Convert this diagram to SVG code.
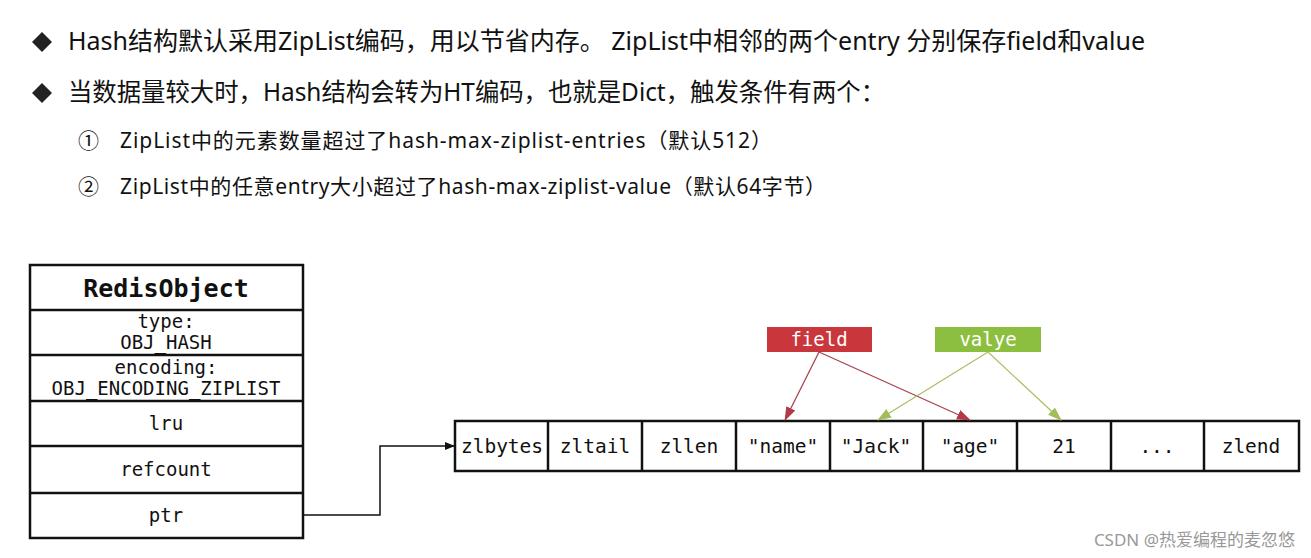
<svg xmlns="http://www.w3.org/2000/svg" width="1311" height="558" viewBox="0 0 1311 558">
<style>
.t{font-family:"Noto Sans","Noto Sans CJK SC",sans-serif;fill:#111}
.m{font-family:"DejaVu Sans Mono","Liberation Mono",monospace;fill:#111;text-anchor:middle}
.box{fill:#fff;stroke:#111;stroke-width:2.5}
.lbl{font-family:"DejaVu Sans Mono","Liberation Mono",monospace;fill:#fff;text-anchor:middle;font-size:19px}
</style>
<defs>
<marker id="ab" markerWidth="10" markerHeight="10" refX="9" refY="5" orient="auto" markerUnits="userSpaceOnUse"><path d="M0,1 L10,5 L0,9 Z" fill="#111"/></marker>
<marker id="ar" markerWidth="14" markerHeight="12" refX="13" refY="6" orient="auto" markerUnits="userSpaceOnUse"><path d="M0,1 L14,6 L0,11 Z" fill="#b03a48"/></marker>
<marker id="ag" markerWidth="14" markerHeight="12" refX="13" refY="6" orient="auto" markerUnits="userSpaceOnUse"><path d="M0,1 L14,6 L0,11 Z" fill="#a3bd5a"/></marker>
</defs>
<rect width="1311" height="558" fill="#fff"/>
<g id="text">
<path d="M42,32 L52,42 L42,52 L32,42 Z" fill="#222"/>
<text class="t" x="68" y="50" font-size="24.5" textLength="1077" lengthAdjust="spacingAndGlyphs">Hash结构默认采用ZipList编码，用以节省内存。 ZipList中相邻的两个entry 分别保存field和value</text>
<path d="M42,83 L52,93 L42,103 L32,93 Z" fill="#222"/>
<text class="t" x="68" y="101" font-size="24.5" textLength="817" lengthAdjust="spacingAndGlyphs">当数据量较大时，Hash结构会转为HT编码，也就是Dict，触发条件有两个：</text>
<text class="t" x="78" y="148" font-size="21">①</text>
<text class="t" x="120" y="148" font-size="21" textLength="652" lengthAdjust="spacing">ZipList中的元素数量超过了hash-max-ziplist-entries（默认512）</text>
<text class="t" x="78" y="194" font-size="21">②</text>
<text class="t" x="120" y="194" font-size="21" textLength="706" lengthAdjust="spacing">ZipList中的任意entry大小超过了hash-max-ziplist-value（默认64字节）</text>
</g>
<g id="redisobject">
<rect class="box" x="30" y="265" width="273" height="273"/>
<line x1="30" y1="310" x2="303" y2="310" stroke="#111" stroke-width="2.5"/>
<line x1="30" y1="355" x2="303" y2="355" stroke="#111" stroke-width="2.5"/>
<line x1="30" y1="401" x2="303" y2="401" stroke="#111" stroke-width="2.5"/>
<line x1="30" y1="446" x2="303" y2="446" stroke="#111" stroke-width="2.5"/>
<line x1="30" y1="493" x2="303" y2="493" stroke="#111" stroke-width="2.5"/>
<text class="m" x="166" y="297" font-size="25" font-weight="bold">RedisObject</text>
<text class="m" x="166" y="328" font-size="19">type:</text>
<text class="m" x="166" y="349" font-size="19">OBJ_HASH</text>
<text class="m" x="166" y="374" font-size="19">encoding:</text>
<text class="m" x="166" y="395" font-size="19">OBJ_ENCODING_ZIPLIST</text>
<text class="m" x="166" y="430" font-size="19">lru</text>
<text class="m" x="166" y="476" font-size="19">refcount</text>
<text class="m" x="166" y="522" font-size="19">ptr</text>
</g>
<g id="ziplist">
<rect class="box" x="455" y="421" width="844" height="50"/>
<line x1="548" y1="421" x2="548" y2="471" stroke="#111" stroke-width="2.5"/>
<line x1="642" y1="421" x2="642" y2="471" stroke="#111" stroke-width="2.5"/>
<line x1="736" y1="421" x2="736" y2="471" stroke="#111" stroke-width="2.5"/>
<line x1="830" y1="421" x2="830" y2="471" stroke="#111" stroke-width="2.5"/>
<line x1="923" y1="421" x2="923" y2="471" stroke="#111" stroke-width="2.5"/>
<line x1="1017" y1="421" x2="1017" y2="471" stroke="#111" stroke-width="2.5"/>
<line x1="1111" y1="421" x2="1111" y2="471" stroke="#111" stroke-width="2.5"/>
<line x1="1204" y1="421" x2="1204" y2="471" stroke="#111" stroke-width="2.5"/>
<text class="m" x="502" y="453" font-size="19.5">zlbytes</text>
<text class="m" x="595" y="453" font-size="19.5">zltail</text>
<text class="m" x="689" y="453" font-size="19.5">zllen</text>
<text class="m" x="783" y="453" font-size="19.5">"name"</text>
<text class="m" x="876" y="453" font-size="19.5">"Jack"</text>
<text class="m" x="970" y="453" font-size="19.5">"age"</text>
<text class="m" x="1064" y="453" font-size="19.5">21</text>
<text class="m" x="1157" y="453" font-size="19.5">...</text>
<text class="m" x="1251" y="453" font-size="19.5">zlend</text>
</g>
<g id="field">
<rect x="767" y="327" width="105" height="25" fill="#c9363c"/>
<text class="lbl" x="819" y="346">field</text>
</g>
<g id="valye">
<rect x="935" y="327" width="106" height="25" fill="#8cbf3f"/>
<text class="lbl" x="988" y="346">valye</text>
</g>
<g id="connectors" fill="none">
<polyline points="304,515 380,515 380,446 454,446" stroke="#111" stroke-width="1.5" marker-end="url(#ab)"/>
<line x1="819" y1="352" x2="785" y2="420" stroke="#a8404c" stroke-width="1.2" marker-end="url(#ar)"/>
<line x1="819" y1="352" x2="970" y2="420" stroke="#a8404c" stroke-width="1.2" marker-end="url(#ar)"/>
<line x1="988" y1="352" x2="878" y2="420" stroke="#a8c060" stroke-width="1.2" marker-end="url(#ag)"/>
<line x1="988" y1="352" x2="1061" y2="420" stroke="#a8c060" stroke-width="1.2" marker-end="url(#ag)"/>
</g>
<text x="1295" y="546" font-family="Noto Sans,Noto Sans CJK SC,sans-serif" font-size="17" fill="#999" text-anchor="end">CSDN @热爱编程的麦忽悠</text>
</svg>
